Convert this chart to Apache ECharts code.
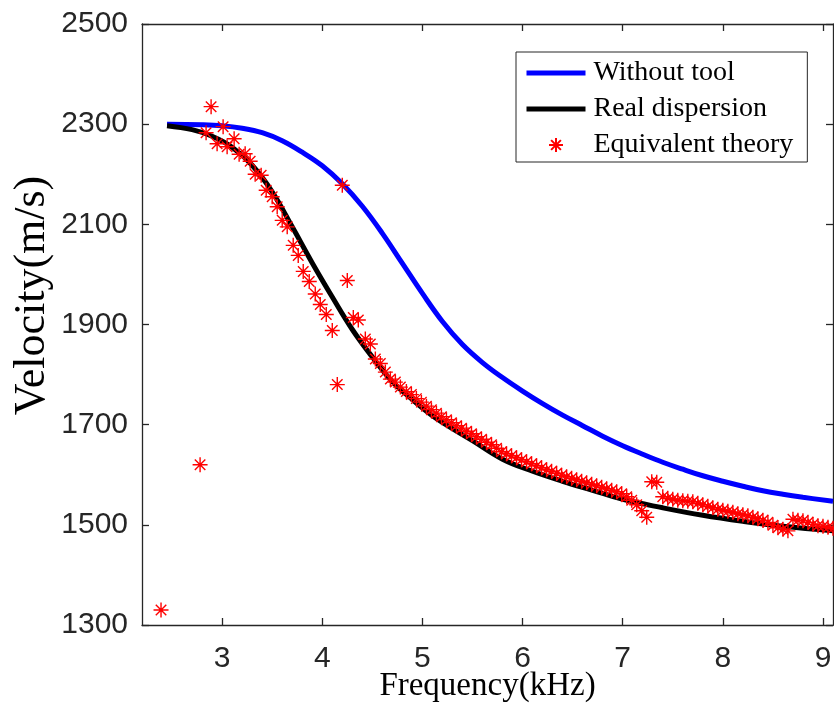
<!DOCTYPE html>
<html>
<head>
<meta charset="utf-8">
<script src="https://cdn.jsdelivr.net/npm/echarts@6/dist/echarts.min.js"></script>
<style>html,body{margin:0;padding:0;background:#fff}#c{width:834px;height:720px}</style>
</head>
<body>
<div id="c"></div>
<script>
const xTicks = [3, 4, 5, 6, 7, 8, 9];
const yTicks = [1300, 1500, 1700, 1900, 2100, 2300, 2500];

const blueFreq = [2.45,2.8,3.0,3.2,3.4,3.6,3.8,4.0,4.2,4.4,4.6,4.8,5.0,5.2,5.4,5.6,5.8,6.0,6.2,6.4,6.6,6.8,7.0,7.2,7.4,7.6,7.8,8.0,8.2,8.4,8.6,8.8,9.1];
const blueVel  = [2300,2299,2297,2292,2283,2267,2244,2217,2181,2136,2082,2022,1962,1906,1860,1824,1794,1767,1742,1719,1698,1677,1658,1641,1625,1611,1598,1587,1577,1568,1561,1555,1547];

const blackFreq = [2.45,2.7,2.9,3.1,3.3,3.5,3.7,3.9,4.1,4.3,4.5,4.7,4.9,5.1,5.3,5.5,5.8,6.1,6.4,6.7,7.0,7.4,7.8,8.2,8.6,9.1];
const blackVel  = [2297,2289,2276,2254,2218,2165,2095,2023,1955,1890,1835,1786,1750,1718,1692,1668,1631,1607,1587,1569,1551,1534,1519,1507,1497,1488];

const starFreq = [2.39,2.78,2.84,2.89,2.95,3.01,3.05,3.12,3.17,3.23,3.28,3.33,3.39,3.44,3.50,3.55,3.60,3.65,3.71,3.76,3.81,3.87,3.93,3.98,4.04,4.10,4.15,4.20,4.25,4.31,4.36,4.43,4.48,4.53,4.58,4.63,4.68,4.73,4.78,4.84,
4.89,4.94,4.99,5.04,5.09,5.14,5.19,5.24,5.29,5.34,5.39,5.44,5.49,5.54,5.59,5.64,5.69,5.74,5.79,5.84,5.89,5.94,5.99,6.04,6.09,6.14,6.19,6.24,6.29,6.34,6.39,6.44,6.49,6.54,6.59,6.64,6.69,6.74,6.79,6.84,6.89,6.94,6.99,
7.04,7.09,7.14,7.19,7.24,7.29,7.34,7.40,7.45,7.50,7.55,7.60,7.65,7.70,7.75,7.80,7.85,7.90,7.95,8.00,8.05,8.10,8.15,8.20,8.25,8.30,8.35,8.40,8.45,8.50,8.55,8.60,8.65,8.70,8.75,8.80,8.85,8.90,8.95,9.00,9.05,9.10];
const starVel = [1330,1620,2283,2335,2261,2295,2255,2271,2240,2241,2226,2200,2198,2168,2155,2135,2108,2095,2058,2038,2006,1986,1961,1940,1920,1888,1780,2178,1988,1914,1909,1871,1861,1831,1822,1805,1791,1785,1775,1766,
1760,1752,1745,1737,1730,1723,1716,1710,1704,1698,1693,1687,1682,1676,1671,1665,1660,1653,1646,1642,1638,1634,1630,1626,1622,1618,1614,1610,1607,1603,1599,1596,1593,1590,1587,1584,1581,1578,1575,1572,1569,1566,1562,
1556,1549,1540,1528,1515,1586,1585,1556,1553,1551,1549,1548,1547,1546,1543,1540,1537,1534,1531,1529,1527,1525,1522,1520,1518,1515,1512,1509,1505,1499,1494,1491,1488,1511,1509,1508,1505,1501,1498,1497,1495,1493];

const zip = (a, b) => a.map((v, i) => [v, b[i]]);
const axisColor = '#262626';
const starPath = 'path://M10,0L10,20M0,10L20,10M3,3L17,17M3,17L17,3';
const tickStyle = {color: axisColor, width: 1.3};

const chart = echarts.init(document.getElementById('c'), null, {renderer: 'canvas'});
const baseX = {
  type: 'value', min: 2.2, max: 9.1,
  axisLine: {show: true, onZero: false, lineStyle: {color: axisColor, width: 1.3}},
  splitLine: {show: false}
};
const baseY = {
  type: 'value', min: 1300, max: 2500,
  axisLine: {show: true, onZero: false, lineStyle: {color: axisColor, width: 1.3}},
  splitLine: {show: false}
};
chart.setOption({
  animation: false,
  backgroundColor: '#fff',
  grid: {left: 142, right: 1, top: 24, bottom: 95, containLabel: false, outerBoundsMode: 'none'},
  legend: {
    orient: 'vertical', left: 516, top: 52,
    backgroundColor: '#fff', borderColor: axisColor, borderWidth: 1,
    padding: [7, 14, 3, 8], itemGap: 8, itemWidth: 59, itemHeight: 14,
    textStyle: {fontFamily: 'Liberation Serif', fontSize: 28, color: '#000', padding: [0, 0, 0, 3]},
    data: [
      {name: 'Without tool', itemStyle: {opacity: 0}, lineStyle: {color: '#0000ff', width: 5}},
      {name: 'Real dispersion', itemStyle: {opacity: 0}, lineStyle: {color: '#000000', width: 5}},
      {name: 'Equivalent theory'}
    ]
  },
  xAxis: [
    Object.assign({}, baseX, {
      position: 'bottom',
      name: 'Frequency(kHz)', nameLocation: 'middle', nameGap: 45, nameMoveOverlap: false,
      nameTextStyle: {fontFamily: 'Liberation Serif', fontSize: 33, color: '#000'},
      axisTick: {show: true, inside: true, length: 7, customValues: xTicks, lineStyle: tickStyle},
      axisLabel: {show: true, customValues: xTicks, margin: 19, fontFamily: 'Liberation Sans', fontSize: 30, color: axisColor}
    }),
    Object.assign({}, baseX, {
      position: 'top',
      axisTick: {show: true, inside: true, length: 7, customValues: xTicks, lineStyle: tickStyle},
      axisLabel: {show: false}
    })
  ],
  yAxis: [
    Object.assign({}, baseY, {
      position: 'left',
      name: 'Velocity(m/s)', nameLocation: 'middle', nameGap: 88, nameRotate: 90, nameMoveOverlap: false,
      nameTextStyle: {fontFamily: 'Liberation Serif', fontSize: 44, color: '#000', padding: [0, 0, 0, 58]},
      axisTick: {show: true, inside: true, length: 7, customValues: yTicks, lineStyle: tickStyle},
      axisLabel: {show: true, customValues: yTicks, margin: 14, fontFamily: 'Liberation Sans', fontSize: 30, color: axisColor,
        formatter: v => String(v)}
    }),
    Object.assign({}, baseY, {
      position: 'right',
      axisTick: {show: true, inside: true, length: 7, customValues: yTicks, lineStyle: tickStyle},
      axisLabel: {show: false}
    })
  ],
  series: [
    {
      name: 'Without tool', type: 'line', xAxisIndex: 0, yAxisIndex: 0,
      data: zip(blueFreq, blueVel), symbol: 'none', smooth: 0.4,
      lineStyle: {color: '#0000ff', width: 5}, itemStyle: {color: '#0000ff'}, z: 2
    },
    {
      name: 'Real dispersion', type: 'line', xAxisIndex: 0, yAxisIndex: 0,
      data: zip(blackFreq, blackVel), symbol: 'none', smooth: 0.4,
      lineStyle: {color: '#000000', width: 5}, itemStyle: {color: '#000000'}, z: 3
    },
    {
      name: 'Equivalent theory', type: 'scatter', xAxisIndex: 0, yAxisIndex: 0,
      data: zip(starFreq, starVel), symbol: starPath, symbolSize: 15, symbolKeepAspect: true,
      itemStyle: {color: 'none', borderColor: '#ff0000', borderWidth: 1.4, opacity: 1}, z: 4
    }
  ]
});
</script>
</body>
</html>
